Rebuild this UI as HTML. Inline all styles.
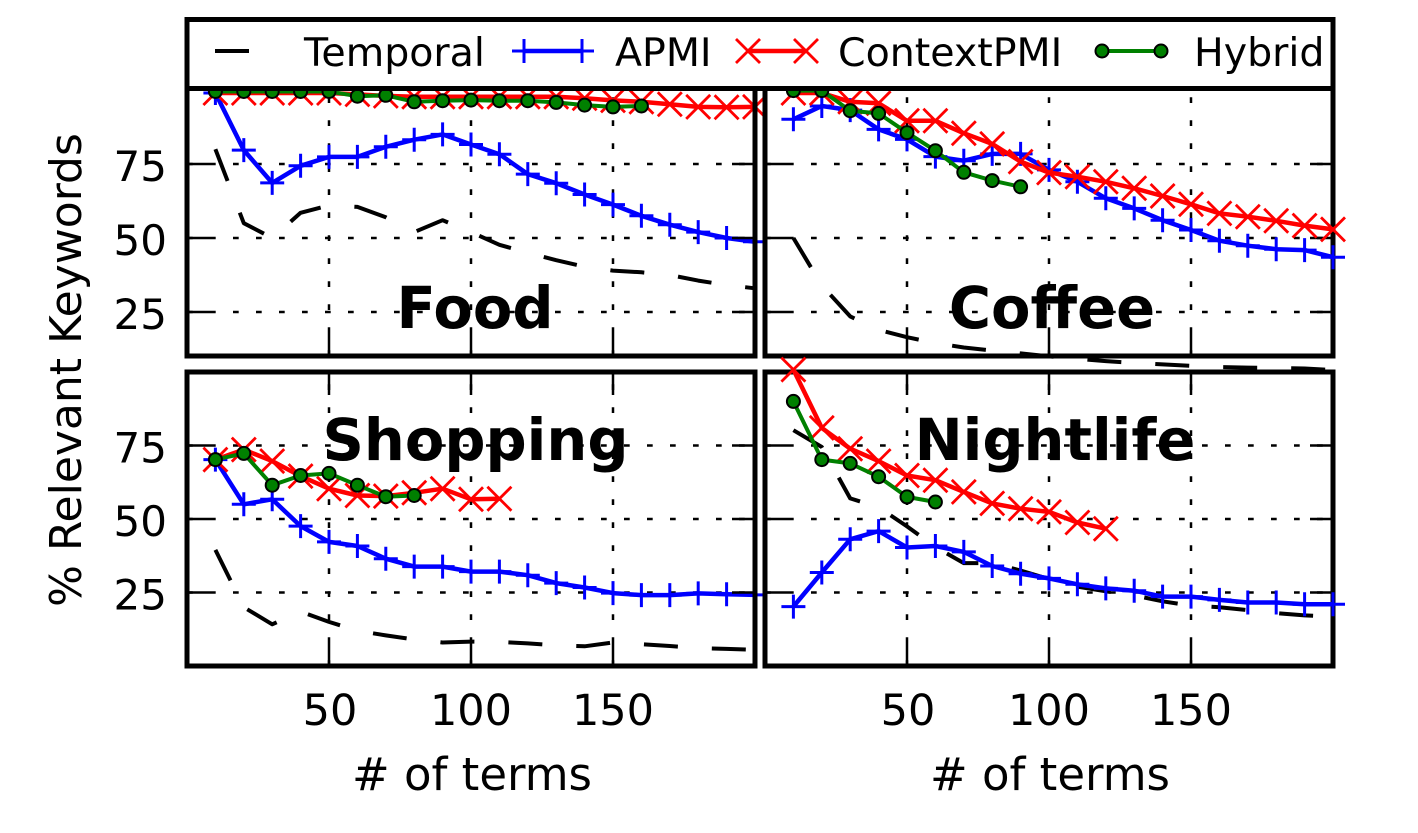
<!DOCTYPE html>
<html>
<head>
<meta charset="utf-8">
<style>
html,body{margin:0;padding:0;background:#fff;}
svg{display:block;}
text{font-family:"DejaVu Sans","Liberation Sans",sans-serif;fill:#000;}
</style>
</head>
<body>
<svg width="1418" height="833" viewBox="0 0 1418 833" xmlns="http://www.w3.org/2000/svg">
<defs>
<marker id="mp" markerUnits="userSpaceOnUse" markerWidth="40" markerHeight="40" viewBox="-20 -20 40 40" refX="0" refY="0" overflow="visible">
<path d="M-12,0H12M0,-12V12" stroke="#0000ff" stroke-width="3" fill="none"/>
</marker>
<marker id="mx" markerUnits="userSpaceOnUse" markerWidth="40" markerHeight="40" viewBox="-20 -20 40 40" refX="0" refY="0" overflow="visible">
<path d="M-12,-12L12,12M-12,12L12,-12" stroke="#ff0000" stroke-width="2.8" fill="none"/>
</marker>
<marker id="mo" markerUnits="userSpaceOnUse" markerWidth="40" markerHeight="40" viewBox="-20 -20 40 40" refX="0" refY="0" overflow="visible">
<circle r="6.5" cx="0" cy="0" fill="#008000" stroke="#000" stroke-width="2"/>
</marker>
</defs>

<rect x="0" y="0" width="1418" height="833" fill="#fff"/>

<!-- ============ TOP-LEFT: Food ============ -->
<g>
<rect x="187" y="60" width="568" height="296" fill="#fff"/>
<g stroke="#000" stroke-width="2.5" stroke-dasharray="5.7 17.3" fill="none">
<line x1="187" y1="164" x2="755" y2="164"/>
<line x1="187" y1="238" x2="755" y2="238"/>
<line x1="187" y1="312" x2="755" y2="312"/>
<line x1="329" y1="356" x2="329" y2="60"/>
<line x1="471" y1="356" x2="471" y2="60"/>
<line x1="613" y1="356" x2="613" y2="60"/>
</g>
<g fill="none" stroke-linejoin="round">
<polyline stroke="#000" stroke-width="4" stroke-dasharray="34 34" points="215.4,149.2 243.8,223.2 272.2,238 300.6,212.8 329,205.4 357.4,206.9 385.8,217.3 414.2,232.1 442.6,220.2 471,232.1 499.4,244.8 527.8,252.8 556.2,260.2 584.6,266.7 613,270.6 641.4,272.3 669.8,275 698.2,280.6 726.6,285.1 755,288.3"/>
<polyline stroke="#0000ff" stroke-width="4.5" marker-start="url(#mp)" marker-mid="url(#mp)" marker-end="url(#mp)" points="215.4,93 243.8,150.1 272.2,182.9 300.6,165.8 329,156.9 357.4,156.9 385.8,146.8 414.2,139.7 442.6,134.4 471,144.5 499.4,154.2 527.8,174.1 556.2,183.2 584.6,194.5 613,204.6 641.4,215.8 669.8,224.7 698.2,232.1 726.6,238 755,241.8"/>
<polyline stroke="#ff0000" stroke-width="4.5" marker-start="url(#mx)" marker-mid="url(#mx)" marker-end="url(#mx)" points="215.4,93 243.8,93 272.2,93 300.6,93 329,93 357.4,94.4 385.8,95.9 414.2,96.8 442.6,96.8 471,96.8 499.4,96.8 527.8,96.8 556.2,96.8 584.6,98.3 613,100.4 641.4,101.8 669.8,104.2 698.2,106.9 726.6,107.2 755,106.9"/>
<polyline stroke="#008000" stroke-width="4" marker-start="url(#mo)" marker-mid="url(#mo)" marker-end="url(#mo)" points="215.4,91.5 243.8,91.5 272.2,91.5 300.6,91.5 329,91.5 357.4,96.2 385.8,95.3 414.2,101.8 442.6,100.7 471,100.1 499.4,100.7 527.8,100.7 556.2,102.4 584.6,105.1 613,106.9 641.4,106"/>
</g>
<g stroke="#000" stroke-width="2.5">
<line x1="187" y1="164" x2="210" y2="164"/><line x1="187" y1="238" x2="210" y2="238"/><line x1="187" y1="312" x2="210" y2="312"/>
<line x1="755" y1="164" x2="732" y2="164"/><line x1="755" y1="238" x2="732" y2="238"/><line x1="755" y1="312" x2="732" y2="312"/>
<line x1="329" y1="356" x2="329" y2="333"/><line x1="471" y1="356" x2="471" y2="333"/><line x1="613" y1="356" x2="613" y2="333"/>
</g>
<rect x="187" y="60" width="568" height="296" fill="none" stroke="#000" stroke-width="5"/>
<text x="475" y="328" font-size="57.5" font-weight="bold" text-anchor="middle">Food</text>
</g>

<!-- ============ TOP-RIGHT: Coffee ============ -->
<g>
<rect x="765" y="60" width="568" height="296" fill="#fff"/>
<g stroke="#000" stroke-width="2.5" stroke-dasharray="5.7 17.3" fill="none">
<line x1="765" y1="164" x2="1333" y2="164"/>
<line x1="765" y1="238" x2="1333" y2="238"/>
<line x1="765" y1="312" x2="1333" y2="312"/>
<line x1="907" y1="356" x2="907" y2="60"/>
<line x1="1049" y1="356" x2="1049" y2="60"/>
<line x1="1191" y1="356" x2="1191" y2="60"/>
</g>
<g stroke="#000" stroke-width="2.5">
<line x1="765" y1="164" x2="788" y2="164"/><line x1="765" y1="238" x2="788" y2="238"/><line x1="765" y1="312" x2="788" y2="312"/>
<line x1="1333" y1="164" x2="1310" y2="164"/><line x1="1333" y1="238" x2="1310" y2="238"/><line x1="1333" y1="312" x2="1310" y2="312"/>
<line x1="907" y1="356" x2="907" y2="333"/><line x1="1049" y1="356" x2="1049" y2="333"/><line x1="1191" y1="356" x2="1191" y2="333"/>
</g>
<rect x="765" y="60" width="568" height="296" fill="none" stroke="#000" stroke-width="5"/>
<g fill="none" stroke-linejoin="round">
<polyline stroke="#000" stroke-width="4" stroke-dasharray="34 34" points="793.4,238 821.8,285.4 850.2,316.4 878.6,329.8 907,337.2 935.4,343.1 963.8,347.5 992.2,350.5 1020.6,353.4 1049,356.4 1077.4,358.8 1105.8,361.1 1134.2,362.9 1162.6,364.4 1191,365.9 1219.4,367.1 1247.8,367.6 1276.2,367.9 1304.6,368.5 1333,370"/>
<polyline stroke="#0000ff" stroke-width="4.5" marker-start="url(#mp)" marker-mid="url(#mp)" marker-end="url(#mp)" points="793.4,119.3 821.8,106 850.2,110.1 878.6,129.4 907,139.4 935.4,156.6 963.8,160.7 992.2,153.9 1020.6,153.9 1049,169.9 1077.4,181.8 1105.8,198.3 1134.2,208.4 1162.6,220.2 1191,230 1219.4,240.7 1247.8,245.7 1276.2,249.2 1304.6,250.1 1333,257.2"/>
<polyline stroke="#ff0000" stroke-width="4.5" marker-start="url(#mx)" marker-mid="url(#mx)" marker-end="url(#mx)" points="793.4,93 821.8,93 850.2,101.8 878.6,103.3 907,120.8 935.4,120.8 963.8,133.2 992.2,143.9 1020.6,161.6 1049,172.6 1077.4,176.7 1105.8,181.8 1134.2,188.3 1162.6,196 1191,204.3 1219.4,213.4 1247.8,216.7 1276.2,220.8 1304.6,225.6 1333,229.4"/>
<polyline stroke="#008000" stroke-width="4" marker-start="url(#mo)" marker-mid="url(#mo)" marker-end="url(#mo)" points="793.4,90.6 821.8,90.6 850.2,110.7 878.6,113.4 907,132.6 935.4,150.7 963.8,172.3 992.2,180.6 1020.6,186.8"/>
</g>
<text x="1052" y="328" font-size="57.5" font-weight="bold" text-anchor="middle">Coffee</text>
</g>

<!-- ============ BOTTOM-LEFT: Shopping ============ -->
<g>
<rect x="187" y="372" width="568" height="294" fill="#fff"/>
<g stroke="#000" stroke-width="2.5" stroke-dasharray="5.7 17.3" fill="none">
<line x1="187" y1="445.5" x2="755" y2="445.5"/>
<line x1="187" y1="519" x2="755" y2="519"/>
<line x1="187" y1="592.5" x2="755" y2="592.5"/>
<line x1="329" y1="666" x2="329" y2="372"/>
<line x1="471" y1="666" x2="471" y2="372"/>
<line x1="613" y1="666" x2="613" y2="372"/>
</g>
<text x="475.5" y="460" font-size="57.5" font-weight="bold" text-anchor="middle">Shopping</text>
<g fill="none" stroke-linejoin="round">
<polyline stroke="#000" stroke-width="4" stroke-dasharray="34 34" points="215.4,549.9 243.8,607.2 272.2,624.3 300.6,611.6 329,621.9 357.4,630.7 385.8,635.4 414.2,639.5 442.6,642.5 471,641.6 499.4,641.9 527.8,643.4 556.2,645.4 584.6,646.3 613,642.5 641.4,644.2 669.8,646 698.2,648.1 726.6,648.9 755,649.8"/>
<polyline stroke="#0000ff" stroke-width="4.5" marker-start="url(#mp)" marker-mid="url(#mp)" marker-end="url(#mp)" points="215.4,459.6 243.8,504.3 272.2,499.3 300.6,526.1 329,541.9 357.4,546 385.8,558.7 414.2,566.6 442.6,566.6 471,571.6 499.4,571.6 527.8,575.2 556.2,583.1 584.6,587.5 613,593.1 641.4,595.1 669.8,595.1 698.2,593.4 726.6,594.3 755,594.9"/>
<polyline stroke="#ff0000" stroke-width="4.5" marker-start="url(#mx)" marker-mid="url(#mx)" marker-end="url(#mx)" points="215.4,459.6 243.8,449.6 272.2,461.1 300.6,476.1 329,488.7 357.4,495.5 385.8,496.1 414.2,492.8 442.6,488.7 471,499.3 499.4,498.7"/>
<polyline stroke="#008000" stroke-width="4" marker-start="url(#mo)" marker-mid="url(#mo)" marker-end="url(#mo)" points="215.4,459.6 243.8,453.4 272.2,485.2 300.6,475.5 329,473.4 357.4,485.2 385.8,496.7 414.2,495.5"/>
</g>
<g stroke="#000" stroke-width="2.5">
<line x1="187" y1="445.5" x2="210" y2="445.5"/><line x1="187" y1="519" x2="210" y2="519"/><line x1="187" y1="592.5" x2="210" y2="592.5"/>
<line x1="755" y1="445.5" x2="732" y2="445.5"/><line x1="755" y1="519" x2="732" y2="519"/><line x1="755" y1="592.5" x2="732" y2="592.5"/>
<line x1="329" y1="666" x2="329" y2="643"/><line x1="471" y1="666" x2="471" y2="643"/><line x1="613" y1="666" x2="613" y2="643"/>
<line x1="329" y1="372" x2="329" y2="395"/><line x1="471" y1="372" x2="471" y2="395"/><line x1="613" y1="372" x2="613" y2="395"/>
</g>
<rect x="187" y="372" width="568" height="294" fill="none" stroke="#000" stroke-width="5"/>
</g>

<!-- ============ BOTTOM-RIGHT: Nightlife ============ -->
<g>
<rect x="765" y="372" width="568" height="294" fill="#fff"/>
<g stroke="#000" stroke-width="2.5" stroke-dasharray="5.7 17.3" fill="none">
<line x1="765" y1="445.5" x2="1333" y2="445.5"/>
<line x1="765" y1="519" x2="1333" y2="519"/>
<line x1="765" y1="592.5" x2="1333" y2="592.5"/>
<line x1="907" y1="666" x2="907" y2="372"/>
<line x1="1049" y1="666" x2="1049" y2="372"/>
<line x1="1191" y1="666" x2="1191" y2="372"/>
</g>
<text x="1055" y="460" font-size="57.5" font-weight="bold" text-anchor="middle">Nightlife</text>
<g stroke="#000" stroke-width="2.5">
<line x1="765" y1="445.5" x2="788" y2="445.5"/><line x1="765" y1="519" x2="788" y2="519"/><line x1="765" y1="592.5" x2="788" y2="592.5"/>
<line x1="1333" y1="445.5" x2="1310" y2="445.5"/><line x1="1333" y1="519" x2="1310" y2="519"/><line x1="1333" y1="592.5" x2="1310" y2="592.5"/>
<line x1="907" y1="666" x2="907" y2="643"/><line x1="1049" y1="666" x2="1049" y2="643"/><line x1="1191" y1="666" x2="1191" y2="643"/>
<line x1="907" y1="372" x2="907" y2="395"/><line x1="1049" y1="372" x2="1049" y2="395"/><line x1="1191" y1="372" x2="1191" y2="395"/>
</g>
<rect x="765" y="372" width="568" height="294" fill="none" stroke="#000" stroke-width="5"/>
<g fill="none" stroke-linejoin="round">
<polyline stroke="#000" stroke-width="4" stroke-dasharray="34 34" points="793.4,430.2 821.8,447 850.2,498.4 878.6,507.2 907,526.4 935.4,546.9 963.8,563.1 992.2,563.1 1020.6,570.5 1049,579 1077.4,586.6 1105.8,591.3 1134.2,595.4 1162.6,601.3 1191,605.7 1219.4,607.2 1247.8,610.1 1276.2,613.1 1304.6,615.4 1333,616.6"/>
<polyline stroke="#0000ff" stroke-width="4.5" marker-start="url(#mp)" marker-mid="url(#mp)" marker-end="url(#mp)" points="793.4,606.6 821.8,572.5 850.2,539.3 878.6,531.1 907,547.5 935.4,546 963.8,551.9 992.2,566 1020.6,573.7 1049,578.4 1077.4,584.3 1105.8,588.4 1134.2,590.7 1162.6,596.6 1191,596.6 1219.4,599.9 1247.8,602.5 1276.2,602.5 1304.6,604.3 1333,604.3"/>
<polyline stroke="#ff0000" stroke-width="4.5" marker-start="url(#mx)" marker-mid="url(#mx)" marker-end="url(#mx)" points="793.4,369.6 821.8,427.9 850.2,448.7 878.6,461.1 907,475.5 935.4,480.2 963.8,491.9 992.2,503.4 1020.6,508.7 1049,511.9 1077.4,522.5 1105.8,528.7"/>
<polyline stroke="#008000" stroke-width="4" marker-start="url(#mo)" marker-mid="url(#mo)" marker-end="url(#mo)" points="793.4,401.4 821.8,459.6 850.2,463.4 878.6,476.7 907,496.9 935.4,502"/>
</g>
</g>

<!-- ============ Axis labels ============ -->
<g font-size="42" text-anchor="end">
<text x="167" y="181">75</text>
<text x="167" y="255">50</text>
<text x="167" y="329">25</text>
<text x="167" y="462.5">75</text>
<text x="167" y="536">50</text>
<text x="167" y="609.5">25</text>
</g>
<g font-size="43" text-anchor="middle">
<text x="330" y="725">50</text>
<text x="471" y="725">100</text>
<text x="613" y="725">150</text>
<text x="908" y="725">50</text>
<text x="1049" y="725">100</text>
<text x="1191" y="725">150</text>
</g>
<g font-size="45" text-anchor="middle">
<text x="472" y="790"># of terms</text>
<text x="1050" y="790"># of terms</text>
</g>
<text transform="translate(81,370) rotate(-90)" font-size="44" text-anchor="middle">% Relevant Keywords</text>

<!-- ============ Legend ============ -->
<g>
<rect x="187" y="19.5" width="1146" height="69" fill="#fff" stroke="#000" stroke-width="5"/>
<line x1="215" y1="51" x2="273" y2="51" stroke="#000" stroke-width="4" stroke-dasharray="34 34"/>
<polyline fill="none" stroke="#0000ff" stroke-width="4.5" marker-start="url(#mp)" marker-end="url(#mp)" points="524,51 582,51"/>
<polyline fill="none" stroke="#ff0000" stroke-width="4.5" marker-start="url(#mx)" marker-end="url(#mx)" points="748,51 806,51"/>
<polyline fill="none" stroke="#008000" stroke-width="4" marker-start="url(#mo)" marker-end="url(#mo)" points="1102,51 1161,51"/>
<g font-size="39.5">
<text x="304" y="66">Temporal</text>
<text x="615" y="66">APMI</text>
<text x="838" y="66">ContextPMI</text>
<text x="1194" y="66">Hybrid</text>
</g>
</g>
</svg>
</body>
</html>
